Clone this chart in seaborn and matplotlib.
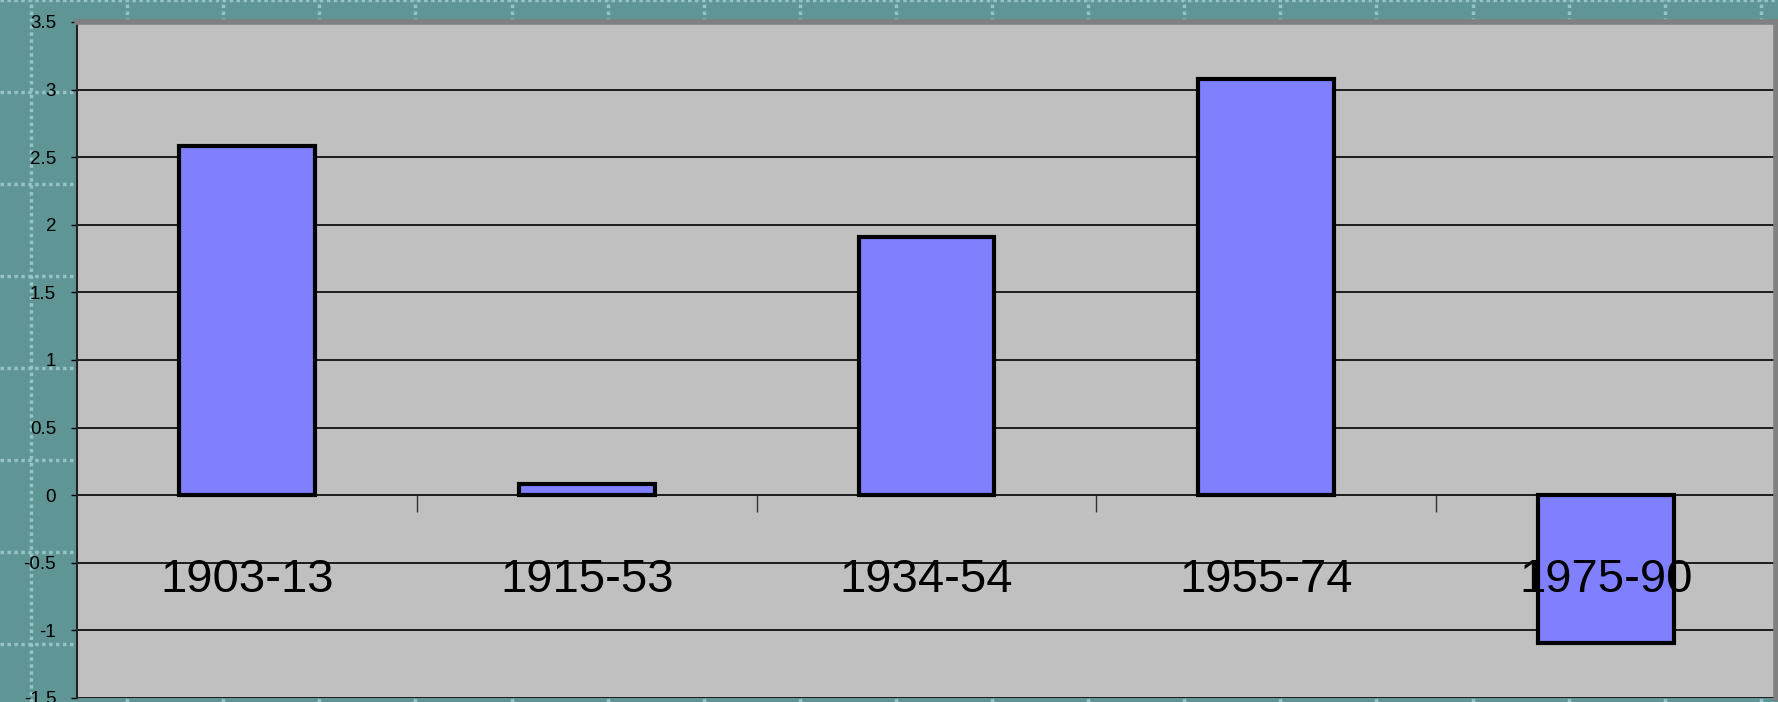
import matplotlib
matplotlib.use("Agg")
import matplotlib.pyplot as plt
import numpy as np
import seaborn as sns

periods = ["1903-13", "1915-53", "1934-54", "1955-74", "1975-90"]
growth = [2.58, 0.08, 1.91, 3.08, -1.09]
y_ticks = [-1.5, -1.0, -0.5, 0.0, 0.5, 1.0, 1.5, 2.0, 2.5, 3.0, 3.5]
y_tick_labels = ["-1.5", "-1", "-0.5", "0", "0.5", "1", "1.5", "2", "2.5", "3", "3.5"]

sns.set_theme(style="white")
plt.rcParams["font.family"] = ["Liberation Sans", "DejaVu Sans"]

W, H = 1778, 702
fig = plt.figure(figsize=(W / 100, H / 100), dpi=100)
fig.patch.set_facecolor("#5F9595")

# spreadsheet cell grid behind the chart
bg = fig.add_axes([0, 0, 1, 1], zorder=-1)
bg.set_facecolor("#5F9595")
bg.set_xlim(0, W)
bg.set_ylim(H, 0)
bg.set_xticks(np.arange(31, W, 96.1))
bg.set_yticks(np.arange(64 - 96.2, H, 96.2))
bg.grid(True, color="#96C4C4", linestyle=(0, (1, 1)), linewidth=2.5)
bg.tick_params(length=0, labelbottom=False, labelleft=False)
for s in bg.spines.values():
    s.set_visible(False)

ax = fig.add_axes([77 / W, 1 - 698 / H, (1776 - 77) / W, (698 - 22) / H])
ax.set_facecolor("#C0C0C0")

sns.barplot(x=periods, y=growth, color="#8080FF", saturation=1, width=0.4,
            edgecolor="black", linewidth=3, ax=ax, zorder=2)

ax.set_ylim(-1.5, 3.5)
ax.set_xlim(-0.5, len(periods) - 0.5)
ax.set_yticks(y_ticks)
ax.set_yticklabels(y_tick_labels, fontsize=13.5, color="black")
ax.yaxis.grid(True, color="black", linewidth=1.2)
ax.set_axisbelow(True)
ax.set_xlabel("")
ax.set_ylabel("")

# category axis crosses at zero, labels sit on top of the bars
ax.spines["bottom"].set_position(("data", 0))
ax.spines["bottom"].set_visible(False)
ax.set_xticks(range(len(periods)))
ax.set_xticklabels(periods, color="black", fontsize=34)
ax.set_xticks(np.arange(0.5, len(periods) - 1, 1.0), minor=True)
ax.tick_params(axis="x", which="major", length=0, pad=45)
ax.tick_params(axis="x", which="minor", length=12, width=1, color="#333333",
               direction="out", bottom=True)
ax.tick_params(axis="y", length=4, width=1, color="black", left=True, pad=11)
ax.xaxis.set_zorder(3)

ax.spines["left"].set_color("#222222")
ax.spines["left"].set_linewidth(1.5)
for side in ["top", "right"]:
    ax.spines[side].set_color("#808080")
    ax.spines[side].set_linewidth(4)

fig.savefig("out.png", dpi=100, facecolor=fig.get_facecolor())
